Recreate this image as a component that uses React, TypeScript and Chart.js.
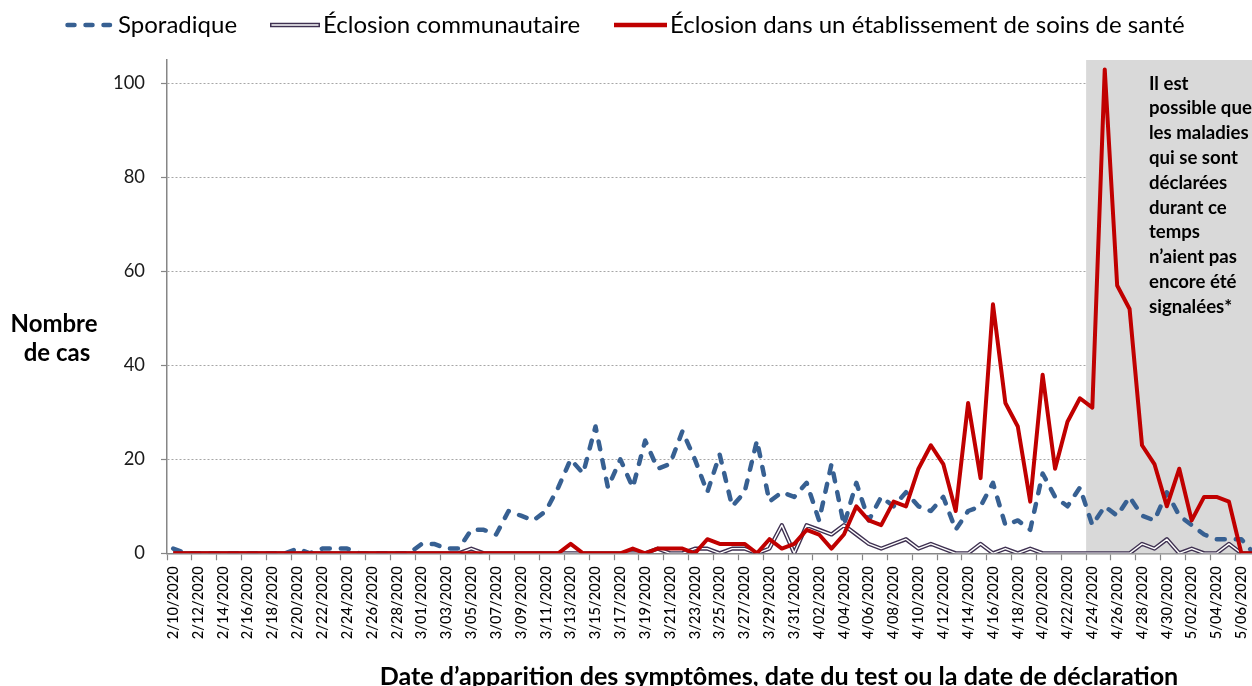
import { useEffect, useRef } from "react";
import { Chart, registerables } from "chart.js";

Chart.register(...registerables);

const dateLabels: string[] = [
  "2/10/2020", "2/11/2020", "2/12/2020", "2/13/2020", "2/14/2020", "2/15/2020", "2/16/2020", "2/17/2020", "2/18/2020", "2/19/2020",
  "2/20/2020", "2/21/2020", "2/22/2020", "2/23/2020", "2/24/2020", "2/25/2020", "2/26/2020", "2/27/2020", "2/28/2020", "2/29/2020",
  "3/01/2020", "3/02/2020", "3/03/2020", "3/04/2020", "3/05/2020", "3/06/2020", "3/07/2020", "3/08/2020", "3/09/2020", "3/10/2020",
  "3/11/2020", "3/12/2020", "3/13/2020", "3/14/2020", "3/15/2020", "3/16/2020", "3/17/2020", "3/18/2020", "3/19/2020", "3/20/2020",
  "3/21/2020", "3/22/2020", "3/23/2020", "3/24/2020", "3/25/2020", "3/26/2020", "3/27/2020", "3/28/2020", "3/29/2020", "3/30/2020",
  "3/31/2020", "4/01/2020", "4/02/2020", "4/03/2020", "4/04/2020", "4/05/2020", "4/06/2020", "4/07/2020", "4/08/2020", "4/09/2020",
  "4/10/2020", "4/11/2020", "4/12/2020", "4/13/2020", "4/14/2020", "4/15/2020", "4/16/2020", "4/17/2020", "4/18/2020", "4/19/2020",
  "4/20/2020", "4/21/2020", "4/22/2020", "4/23/2020", "4/24/2020", "4/25/2020", "4/26/2020", "4/27/2020", "4/28/2020", "4/29/2020",
  "4/30/2020", "5/01/2020", "5/02/2020", "5/03/2020", "5/04/2020", "5/05/2020", "5/06/2020", "5/07/2020",
];

const sporadique: number[] = [
  1, 0, 0, 0, 0, 0, 0, 0, 0, 0,
  1, 0, 1, 1, 1, 0, 0, 0, 0, 0,
  2, 2, 1, 1, 5, 5, 4, 9, 8, 7,
  9, 14, 20, 17, 27, 14, 20, 14, 24, 18,
  19, 26, 20, 13, 21, 10, 13, 24, 11, 13,
  12, 15, 7, 19, 6, 15, 7, 12, 10, 13,
  10, 9, 12, 5, 9, 10, 15, 6, 7, 5,
  17, 12, 10, 14, 6, 10, 8, 12, 8, 7,
  13, 8, 6, 4, 3, 3, 3, 0,
];

const communautaire: number[] = [
  0, 0, 0, 0, 0, 0, 0, 0, 0, 0,
  0, 0, 0, 0, 0, 0, 0, 0, 0, 0,
  0, 0, 0, 0, 1, 0, 0, 0, 0, 0,
  0, 0, 0, 0, 0, 0, 0, 0, 0, 1,
  0, 0, 1, 1, 0, 1, 1, 0, 1, 6,
  0, 6, 5, 4, 6, 4, 2, 1, 2, 3,
  1, 2, 1, 0, 0, 2, 0, 1, 0, 1,
  0, 0, 0, 0, 0, 0, 0, 0, 2, 1,
  3, 0, 1, 0, 0, 2, 0, 0,
];

const etablissement: number[] = [
  0, 0, 0, 0, 0, 0, 0, 0, 0, 0,
  0, 0, 0, 0, 0, 0, 0, 0, 0, 0,
  0, 0, 0, 0, 0, 0, 0, 0, 0, 0,
  0, 0, 2, 0, 0, 0, 0, 1, 0, 1,
  1, 1, 0, 3, 2, 2, 2, 0, 3, 1,
  2, 5, 4, 1, 4, 10, 7, 6, 11, 10,
  18, 23, 19, 9, 32, 16, 53, 32, 27, 11,
  38, 18, 28, 33, 31, 103, 57, 52, 23, 19,
  10, 18, 7, 12, 12, 11, 0, 0,
];

const seriesNames: string[] = [
  "Sporadique",
  "Éclosion communautaire",
  "Éclosion dans un établissement de soins de santé",
];

const yTickValues: number[] = [0, 20, 40, 60, 80, 100];
const yMax = 105;
const shadeStartLabel = "4/24/2020";

const yTitleLines: string[] = ["Nombre", "de cas"];
const xTitle = "Date d’apparition des symptômes, date du test ou la date de déclaration";
const noteLines: string[] = [
  "Il est",
  "possible que",
  "les maladies",
  "qui se sont",
  "déclarées",
  "durant ce",
  "temps",
  "n’aient pas",
  "encore été",
  "signalées*",
];

const FAMILY = 'Lato, "Noto Sans", sans-serif';
const BLUE = "#376092";
const PURPLE = "#3F3151";
const RED = "#C00000";
const AXIS_GRAY = "#868686";

export default function App() {
  const ref = useRef<HTMLCanvasElement | null>(null);

  useEffect(() => {
    const canvas = ref.current;
    if (!canvas) return;
    const mctx = document.createElement("canvas").getContext("2d") as CanvasRenderingContext2D;
    const fit = (text: string, weight: number, target: number) => {
      mctx.font = `${weight} 100px ${FAMILY}`;
      return (100 * target) / mctx.measureText(text).width;
    };
    const xTickSize = fit("2/10/2020", 500, 73);
    const yTickSize = fit("100", 400, 32);
    const legendSize = fit(seriesNames[2], 400, 515);
    const yTitleSize = fit(yTitleLines[0], 700, 87);
    const xTitleSize = fit(xTitle, 700, 799);
    const noteSize = fit(noteLines[3], 700, 89);

    const decor = {
      id: "decor",
      beforeDatasetsDraw(chart: any) {
        const { ctx, chartArea, scales } = chart;
        const xs = scales.x;
        const i = dateLabels.indexOf(shadeStartLabel);
        const left = (xs.getPixelForValue(i - 1) + xs.getPixelForValue(i)) / 2;
        ctx.save();
        ctx.fillStyle = "#D9D9D9";
        ctx.fillRect(left, chartArea.top, chart.width - left, chartArea.bottom - chartArea.top);
        ctx.restore();
      },
      afterDraw(chart: any) {
        const { ctx } = chart;
        ctx.save();
        const ly = 25;
        const seg = (x1: number, x2: number) => {
          ctx.beginPath();
          ctx.moveTo(x1, ly);
          ctx.lineTo(x2, ly);
          ctx.stroke();
        };
        // legend samples
        ctx.lineCap = "round";
        ctx.setLineDash([7, 11]);
        ctx.strokeStyle = BLUE;
        ctx.lineWidth = 4.5;
        seg(67.5, 110);
        ctx.setLineDash([]);
        ctx.lineCap = "butt";
        ctx.strokeStyle = PURPLE;
        ctx.lineWidth = 4.5;
        seg(270, 320);
        ctx.strokeStyle = "#ffffff";
        ctx.lineWidth = 1.5;
        seg(271.5, 318.5);
        ctx.strokeStyle = RED;
        ctx.lineWidth = 4.5;
        seg(614, 667);
        // legend text
        ctx.fillStyle = "#000";
        ctx.textAlign = "left";
        ctx.textBaseline = "middle";
        ctx.font = `400 ${legendSize}px ${FAMILY}`;
        ctx.fillText(seriesNames[0], 118, ly);
        ctx.fillText(seriesNames[1], 323, ly);
        ctx.fillText(seriesNames[2], 670, ly);
        // y title
        ctx.textAlign = "center";
        ctx.textBaseline = "alphabetic";
        ctx.font = `700 ${yTitleSize}px ${FAMILY}`;
        ctx.fillText(yTitleLines[0], 54, 332);
        ctx.fillText(yTitleLines[1], 57, 361);
        // x title
        ctx.font = `700 ${xTitleSize}px ${FAMILY}`;
        ctx.fillText(xTitle, 779, 685);
        // note
        ctx.textAlign = "left";
        ctx.font = `700 ${noteSize}px ${FAMILY}`;
        noteLines.forEach((t, k) => ctx.fillText(t, 1149, 89.5 + k * 24.8));
        ctx.restore();
      },
    };

    const chart = new Chart(canvas, {
      type: "line",
      data: {
        labels: dateLabels,
        datasets: [
          {
            label: seriesNames[2],
            data: etablissement,
            borderColor: RED,
            borderWidth: 4,
            borderJoinStyle: "round",
            pointRadius: 0,
            tension: 0,
          },
          {
            label: seriesNames[1] + " (core)",
            data: communautaire,
            borderColor: "#ffffff",
            borderWidth: 1.4,
            borderJoinStyle: "round",
            pointRadius: 0,
            tension: 0,
          },
          {
            label: seriesNames[1],
            data: communautaire,
            borderColor: PURPLE,
            borderWidth: 4.2,
            borderJoinStyle: "round",
            pointRadius: 0,
            tension: 0,
          },
          {
            label: seriesNames[0],
            data: sporadique,
            borderColor: BLUE,
            borderWidth: 4.5,
            borderDash: [8, 11],
            borderCapStyle: "round",
            borderJoinStyle: "round",
            pointRadius: 0,
            tension: 0,
          },
        ],
      } as any,
      options: {
        animation: false,
        responsive: false,
        devicePixelRatio: 1,
        layout: { padding: { top: 60, left: 0, right: 4, bottom: 0 } },
        plugins: {
          legend: { display: false },
          title: { display: false },
          tooltip: { enabled: false },
        },
        scales: {
          x: {
            type: "category",
            offset: true,
            afterFit: (s: any) => {
              s.height = 686 - 553.3;
              s.paddingLeft = 0;
              s.paddingRight = 0;
            },
            grid: {
              display: true,
              offset: true,
              drawOnChartArea: false,
              drawTicks: true,
              tickLength: 7,
              tickWidth: 1.2,
              tickColor: (c: any) => (c.index % 2 === 0 ? AXIS_GRAY : "rgba(0,0,0,0)"),
            },
            border: { display: true, color: AXIS_GRAY, width: 1.5 },
            ticks: {
              autoSkip: false,
              maxRotation: 90,
              minRotation: 90,
              padding: 6,
              color: "#000",
              font: { family: FAMILY, size: xTickSize, weight: 500 },
              callback: (_v: any, idx: number) => (idx % 2 === 0 ? dateLabels[idx] : ""),
            },
          },
          y: {
            min: 0,
            max: yMax,
            afterFit: (s: any) => {
              s.width = 167;
            },
            afterBuildTicks: (s: any) => {
              s.ticks = yTickValues.map((v) => ({ value: v }));
            },
            grid: {
              color: (c: any) => (c.tick && c.tick.value === 0 ? "rgba(0,0,0,0)" : "#A6A6A6"),
              lineWidth: 1,
              tickLength: 6,
              tickColor: AXIS_GRAY,
              tickWidth: 1.2,
            },
            border: { display: true, color: AXIS_GRAY, width: 1.5, dash: [2, 2] },
            ticks: {
              padding: 16,
              color: "#1a1a1a",
              font: { family: FAMILY, size: yTickSize, weight: 400 },
            },
          },
        },
      } as any,
      plugins: [decor],
    });
    return () => chart.destroy();
  }, []);

  return (
    <div
      style={{
        position: "fixed",
        left: 0,
        top: 0,
        width: 1252,
        height: 686,
        overflow: "hidden",
        background: "#ffffff",
      }}
    >
      <canvas ref={ref} width={1264} height={686} style={{ display: "block" }} />
    </div>
  );
}
